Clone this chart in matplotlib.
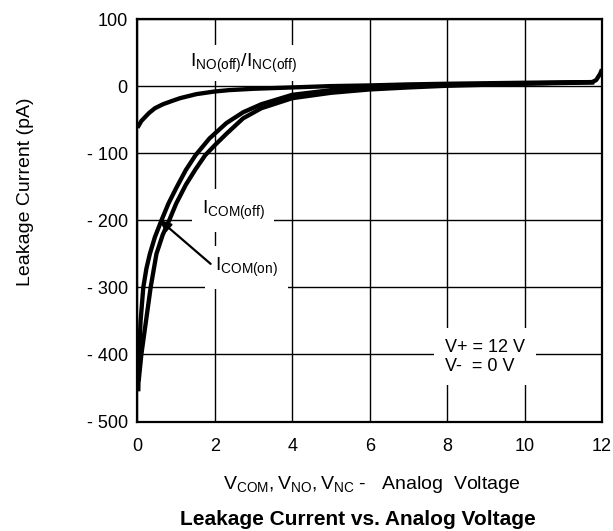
import matplotlib.pyplot as plt
import numpy as np

plt.rcParams['font.family'] = ['Liberation Sans', 'DejaVu Sans']
plt.rcParams['mathtext.fontset'] = 'custom'
plt.rcParams['mathtext.rm'] = 'Liberation Sans'
plt.rcParams['mathtext.it'] = 'Liberation Sans'

# leakage current (pA) vs analog voltage (V)
v_com_on = [0.02, 0.04, 0.08, 0.15, 0.23, 0.32, 0.45, 0.62, 0.8, 1.0, 1.25, 1.5, 1.86, 2.3, 2.73, 3.2, 4, 5, 6, 7, 8, 10, 11.8]
i_com_on = [-455, -400, -350, -300, -272, -250, -225, -200, -175, -152, -125, -103, -78, -55, -39, -27, -13, -6, -3, 0, 1.5, 4, 6]

v_com_off = [0.03, 0.1, 0.22, 0.34, 0.49, 0.65, 0.82, 1.0, 1.25, 1.5, 1.75, 2.0, 2.3, 2.73, 3.2, 4, 5, 6, 7, 8, 10, 11.8]
i_com_off = [-440, -400, -350, -300, -250, -222, -200, -175, -147, -124, -103, -88, -71, -48, -33, -18, -10, -5, -2, 0.5, 3.5, 5.5]

v_no = [0, 0.02, 0.1, 0.3, 0.45, 0.66, 0.9, 1.1, 1.52, 2.0, 2.37, 3, 4, 5, 6, 7, 8, 10, 11.75, 11.85, 11.95, 12]
i_no = [-62, -60, -52, -40, -33, -27, -22, -18, -12, -8, -6, -4, -2, 0, 1, 2.5, 3.5, 5, 6, 9, 18, 25]

xticks = [0, 2, 4, 6, 8, 10, 12]
yticks = [100, 0, -100, -200, -300, -400, -500]
ylabels = ['100', '0', '- 100', '- 200', '- 300', '- 400', '- 500']

fig = plt.figure(figsize=(6.13, 5.31), dpi=100)
ax = fig.add_axes([0.2243, 0.2062, 0.7577, 0.758])

for xs, ys in [(v_com_on, i_com_on), (v_com_off, i_com_off), (v_no, i_no)]:
    ax.plot(xs, ys, color='black', lw=3.1, solid_capstyle='butt', solid_joinstyle='round', zorder=3)

ax.set_xlim(0, 12)
ax.set_ylim(-500, 100)
ax.set_xticks(xticks)
ax.set_yticks(yticks)
ax.set_yticklabels(ylabels)
ax.tick_params(length=0, labelsize=13)
ax.tick_params(axis='x', pad=12)
ax.tick_params(axis='y', pad=7)
ax.grid(True, color='black', lw=1)
ax.set_axisbelow(True)
for s in ax.spines.values():
    s.set_linewidth(1.6)
    s.set_zorder(6)

sq = dict(facecolor='white', edgecolor='none', boxstyle='square,pad=0.35')
ax.text(1.35, 29, r'$\mathregular{I_{NO(off)}/I_{NC(off)}}$', fontsize=14, va='baseline', ha='left', bbox=sq, zorder=4)
ax.text(1.66, -191, r'$\mathregular{I_{COM(off)}}$', fontsize=14, va='baseline', ha='left',
        bbox=dict(facecolor='white', edgecolor='none', boxstyle='square,pad=0.5'), zorder=4)
ax.text(2.0, -276, r'$\mathregular{I_{COM(on)}}$', fontsize=14, va='baseline', ha='left',
        bbox=dict(facecolor='white', edgecolor='none', boxstyle='square,pad=0.5'), zorder=4)
ax.annotate('', xy=(0.56, -199), xytext=(1.89, -265),
            arrowprops=dict(arrowstyle='-|>,head_length=0.7,head_width=0.3', color='black', lw=1.6,
                            shrinkA=0, shrinkB=0), zorder=5)
ax.text(7.94, -424, 'V+ = 12 V\nV-  = 0 V', fontsize=13, va='baseline', ha='left',
        linespacing=1.15, bbox=dict(facecolor='white', edgecolor='none', boxstyle='square,pad=0.6'), zorder=4)

fig.text(0.041, 0.638, 'Leakage Current (pA)', fontsize=14, rotation=90, ha='center', va='center')
fig.text(0.606, 0.087, r'$\mathregular{V_{COM}, V_{NO}, V_{NC}}$ -   Analog  Voltage',
         fontsize=14, ha='center', va='center')
fig.text(0.583, 0.022, 'Leakage Current vs. Analog Voltage', fontsize=15,
         fontweight='bold', ha='center', va='center')

fig.savefig('out.png', dpi=100)
